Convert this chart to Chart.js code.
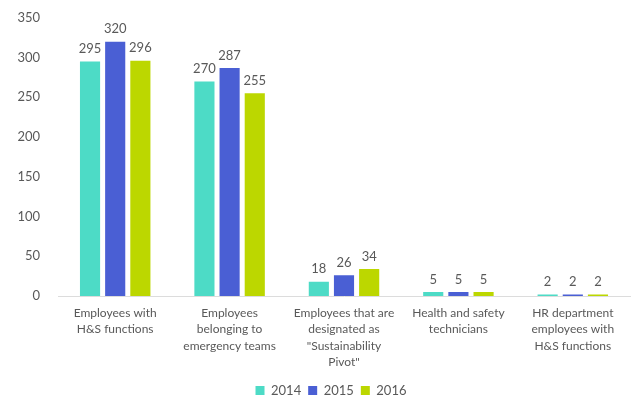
<!DOCTYPE html>
<html>
<head>
<meta charset="utf-8">
<script src="https://cdn.jsdelivr.net/npm/chart.js@4"></script>
<style>
  html, body { margin: 0; padding: 0; background: #fff; }
  #wrap { width: 632px; height: 399px; }
</style>
</head>
<body>
<div id="wrap"><canvas id="staffChart" width="632" height="399"></canvas></div>
<script>
const categories = [
    ['Employees with', 'H&S functions'],
    ['Employees', 'belonging to', 'emergency teams'],
    ['Employees that are', 'designated as', '"Sustainability', 'Pivot"'],
    ['Health and safety', 'technicians'],
    ['HR department', 'employees with', 'H&S functions']
];
const years = ['2014', '2015', '2016'];
const values2014 = [295, 270, 18, 5, 2];
const values2015 = [320, 287, 26, 5, 2];
const values2016 = [296, 255, 34, 5, 2];
const yTicks = [0, 50, 100, 150, 200, 250, 300, 350];

const textColor = '#595959';

// draws the value above each bar
const barValues = {
    id: 'barValues',
    afterDatasetsDraw(chart) {
        const ctx = chart.ctx;
        ctx.save();
        ctx.font = '13px Lato';
        ctx.fillStyle = textColor;
        ctx.textAlign = 'center';
        ctx.textBaseline = 'bottom';
        chart.data.datasets.forEach(function(ds, i) {
            chart.getDatasetMeta(i).data.forEach(function(bar, j) {
                ctx.fillText(ds.data[j], bar.x, bar.y - 6);
            });
        });
        ctx.restore();
    }
};

// legend in the original sits a bit right of the canvas centre
const legendShift = {
    id: 'legendShift',
    afterLayout(chart) {
        chart.legend.left += 16;
        chart.legend.right += 16;
    }
};

new Chart(document.getElementById('staffChart'), {
    type: 'bar',
    data: {
        labels: categories,
        datasets: [
            { label: years[0], data: values2014, backgroundColor: '#4ddbc6' },
            { label: years[1], data: values2015, backgroundColor: '#4a5fd4' },
            { label: years[2], data: values2016, backgroundColor: '#bcd700' }
        ]
    },
    options: {
        responsive: false,
        animation: false,
        layout: { padding: { top: 0, right: 2, left: 0, bottom: -8 } },
        datasets: { bar: { categoryPercentage: 0.66, barPercentage: 0.8 } },
        plugins: {
            legend: {
                position: 'bottom',
                labels: {
                    boxWidth: 9, boxHeight: 9, padding: 7,
                    color: textColor,
                    font: { family: 'Lato', size: 13 }
                }
            },
            tooltip: { enabled: false }
        },
        scales: {
            x: {
                afterFit(scale) { scale.height = 81; },
                grid: { display: false },
                border: { display: true, color: '#dcdcdc', width: 1 },
                ticks: {
                    color: textColor, maxRotation: 0, autoSkip: false, padding: 1,
                    font: { family: 'Lato', size: 12, lineHeight: 1.36 }
                }
            },
            y: {
                min: 0,
                max: 350,
                afterBuildTicks(scale) { scale.ticks = yTicks.map(v => ({ value: v })); },
                afterFit(scale) { scale.width = 58; },
                grid: { display: false },
                border: { display: false },
                ticks: {
                    color: textColor, padding: 10,
                    font: { family: 'Lato', size: 13 }
                }
            }
        }
    },
    plugins: [barValues, legendShift]
});
</script>
</body>
</html>
